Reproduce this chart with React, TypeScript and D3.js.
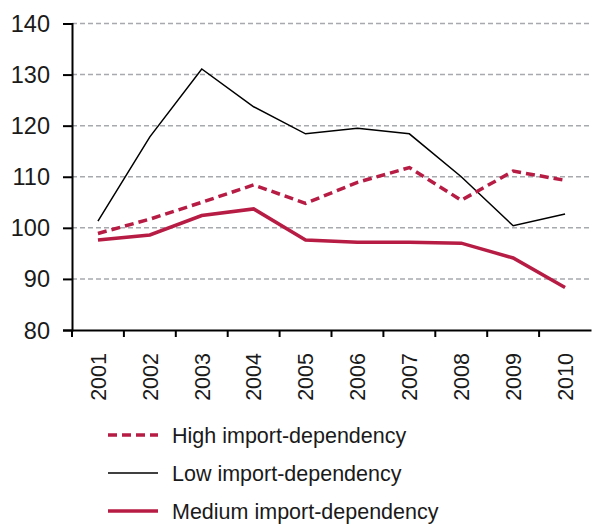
import React, { useEffect, useRef } from "react";
import * as d3 from "d3";

const years = ["2001", "2002", "2003", "2004", "2005", "2006", "2007", "2008", "2009", "2010"];
const highImport = [98.9, 101.7, 105.0, 108.4, 104.8, 108.9, 111.8, 105.4, 111.1, 109.3];
const lowImport = [101.3, 117.8, 131.1, 123.7, 118.4, 119.5, 118.4, 110.0, 100.4, 102.7];
const mediumImport = [97.6, 98.6, 102.4, 103.7, 97.6, 97.2, 97.2, 97.0, 94.1, 88.3];
const yTicks = [80, 90, 100, 110, 120, 130, 140];

const RED = "#b71c45";
const FONT = "'Liberation Sans', Arial, sans-serif";

const App: React.FC = () => {
	const svgRef = useRef<SVGSVGElement>(null);

	useEffect(() => {
		if (!svgRef.current) return;
		const svg = d3.select(svgRef.current);
		svg.selectAll("*").remove();

		const left = 72;
		const right = 591;
		const top = 23.5;
		const bottom = 330;

		const x = d3.scaleBand().domain(years).range([left, right]);
		const y = d3.scaleLinear().domain([80, 140]).range([bottom, top]);

		// gridlines
		svg
			.append("g")
			.selectAll("line")
			.data(yTicks.filter((t) => t > 80))
			.join("line")
			.attr("x1", left)
			.attr("x2", right)
			.attr("y1", (d) => y(d))
			.attr("y2", (d) => y(d))
			.attr("stroke", "#a7a9ae")
			.attr("stroke-width", 1.5)
			.attr("stroke-dasharray", "5,3");

		// y axis
		const yAxis = svg
			.append("g")
			.attr("transform", `translate(${left},0)`)
			.call(d3.axisLeft(y).tickValues(yTicks).tickSize(9).tickPadding(13));
		yAxis.select(".domain").attr("stroke", "#000").attr("stroke-width", 2);
		yAxis.selectAll(".tick line").attr("stroke", "#000").attr("stroke-width", 2);
		yAxis
			.selectAll(".tick text")
			.attr("fill", "#1a1a1a")
			.attr("dy", "0.34em")
			.style("font-family", FONT)
			.style("font-size", "23.5px");

		// x axis
		const xAxis = svg
			.append("g")
			.attr("transform", `translate(0,${bottom})`)
			.call(d3.axisBottom(x).tickSize(0).tickSizeOuter(0));
		xAxis.select(".domain").attr("stroke", "#000").attr("stroke-width", 2);
		xAxis
			.selectAll(".tick text")
			.attr("fill", "#1a1a1a")
			.attr("transform", "rotate(-90)")
			.attr("text-anchor", "end")
			.attr("x", -23)
			.attr("y", 0)
			.attr("dy", "0.36em")
			.style("font-family", FONT)
			.style("font-size", "21.5px");

		// x tick marks at band boundaries
		svg
			.append("g")
			.selectAll("line")
			.data(years)
			.join("line")
			.attr("x1", (d) => x(d)!)
			.attr("x2", (d) => x(d)!)
			.attr("y1", bottom)
			.attr("y2", bottom + 7)
			.attr("stroke", "#000")
			.attr("stroke-width", 2);

		const line = d3
			.line<number>()
			.x((_, i) => x(years[i])! + x.bandwidth() / 2)
			.y((d) => y(d));

		svg
			.append("path")
			.datum(lowImport)
			.attr("d", line)
			.attr("fill", "none")
			.attr("stroke", "#000")
			.attr("stroke-width", 1.5);

		svg
			.append("path")
			.datum(mediumImport)
			.attr("d", line)
			.attr("fill", "none")
			.attr("stroke", RED)
			.attr("stroke-width", 3.5);

		svg
			.append("path")
			.datum(highImport)
			.attr("d", line)
			.attr("fill", "none")
			.attr("stroke", RED)
			.attr("stroke-width", 3.5)
			.attr("stroke-dasharray", "9,5");

		// legend
		const legendItems = [
			{ label: "High import-dependency", color: RED, width: 3.5, dash: "9,5" },
			{ label: "Low import-dependency", color: "#000", width: 1.5, dash: null },
			{ label: "Medium import-dependency", color: RED, width: 3.5, dash: null },
		];
		const legend = svg
			.append("g")
			.selectAll("g")
			.data(legendItems)
			.join("g")
			.attr("transform", (_, i) => `translate(108,${435 + i * 38})`);
		legend
			.append("line")
			.attr("x1", 0)
			.attr("x2", 50)
			.attr("stroke", (d) => d.color)
			.attr("stroke-width", (d) => d.width)
			.attr("stroke-dasharray", (d) => d.dash);
		legend
			.append("text")
			.attr("x", 64)
			.attr("dy", "0.36em")
			.attr("fill", "#1a1a1a")
			.style("font-family", FONT)
			.style("font-size", "21.5px")
			.text((d) => d.label);
	}, []);

	return (
		<svg
			ref={svgRef}
			width={594}
			height={524}
			style={{ position: "absolute", left: 0, top: 0, background: "#fff" }}
		/>
	);
};

export default App;
